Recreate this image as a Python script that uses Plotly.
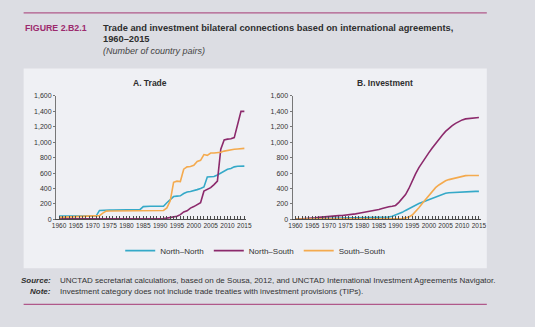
import plotly.graph_objects as go

W, H = 535, 327
years = list(range(1960, 2016))

# ---- Panel A: Trade ----
trade_nn = [42]*12 + [115] + [119]*8 + [125]*4 + [165] + [170]*6 + \
    [215, 260, 295, 300, 305, 335, 355, 360, 370, 385, 400, 420, 550, 552, 555, 575,
     600, 625, 650, 660, 680, 688, 690, 690]
trade_ss = [25, 27, 29, 31, 33, 35, 37, 39, 41, 43, 45, 46, 48, 80, 106] + [108]*16 + \
    [115, 148, 240, 480, 495, 490, 650, 680, 685, 700, 750, 765, 840, 830, 860, 860,
     862, 870, 885, 895, 900, 908, 912, 918, 920]
trade_ns = [5]*30 + [8, 10, 15, 25, 30, 40, 60, 95, 110, 145, 165, 185, 215, 365, 385,
                     410, 450, 495, 910, 1030, 1040, 1045, 1060, 1240, 1400, 1400]

# ---- Panel B: Investment ----
inv_ns = [0, 2, 4, 8, 12, 15, 20, 25, 30, 33, 36, 40, 44, 47, 50, 53, 57, 62, 70, 78,
          85, 92, 98, 105, 115, 127, 140, 155, 162, 170, 180, 220, 270, 320, 400, 500,
          590, 670, 740, 805, 865, 925, 985, 1035, 1090, 1140, 1180, 1215, 1245, 1270,
          1290, 1303, 1308, 1312, 1315, 1320]
inv_ss = [3]*31 + [5, 10, 18, 30, 55, 100, 150, 205, 260, 315, 370, 410, 445, 475, 500,
                   515, 525, 540, 555, 563, 567, 568, 568, 568, 568]
inv_nn = [3, 4, 5, 6, 7, 8, 9, 10, 10, 11, 12, 12, 13, 13, 14, 14, 15, 15, 16, 16, 17,
          17, 18, 18, 19, 20, 22, 25, 30, 40, 55, 72, 90, 115, 140, 160, 185, 205, 222,
          238, 255, 272, 292, 310, 325, 338, 345, 348, 350, 352, 354, 358, 360, 362,
          362, 362]

series = ["North–North", "North–South", "South–South"]
colors = {"North–North": "#35a9c8", "North–South": "#8c2a6c", "South–South": "#f4aa4e"}
y_ticks = [0, 200, 400, 600, 800, 1000, 1200, 1400, 1600]
x_ticks = list(range(1960, 2016, 5))

FONT = "Arial, Liberation Sans, sans-serif"

def px(x):
    return x / W

def py(y):
    return 1 - y / H

fig = go.Figure()
for name, a, b in [("North–North", trade_nn, inv_nn),
                   ("North–South", trade_ns, inv_ns),
                   ("South–South", trade_ss, inv_ss)]:
    fig.add_trace(go.Scatter(x=years, y=a, mode="lines", name=name,
                             line=dict(color=colors[name], width=1.6),
                             xaxis="x", yaxis="y", showlegend=True))
    fig.add_trace(go.Scatter(x=years, y=b, mode="lines", name=name,
                             line=dict(color=colors[name], width=1.6),
                             xaxis="x2", yaxis="y2", showlegend=False))

xax = dict(range=[1959.1, 2015.6], tickmode="array", tickvals=x_ticks,
           ticktext=[str(t) for t in x_ticks], showgrid=False, zeroline=False,
           showline=True, linecolor="#4a4a4a", linewidth=1, ticks="inside",
           ticklen=3, tickcolor="#4a4a4a", tickangle=0,
           minor=dict(dtick=1, tick0=1960, ticks="inside", ticklen=3, tickcolor="#4a4a4a"),
           tickfont=dict(family=FONT, size=6.5, color="#333333"), fixedrange=True)
yax = dict(range=[0, 1600], tickmode="array", tickvals=y_ticks,
           ticktext=[f"{v:,}" for v in y_ticks], showgrid=False, zeroline=False,
           showline=True, linecolor="#777777", linewidth=1, ticks="outside",
           ticklen=2, tickcolor="#777777",
           tickfont=dict(family=FONT, size=7, color="#333333"),
           domain=[py(220), py(94)], fixedrange=True)

shapes = [
    dict(type="rect", xref="paper", yref="paper", x0=px(20), x1=px(492),
         y0=py(270), y1=py(66), fillcolor="#eff0f4", line=dict(width=0), layer="below"),
    dict(type="line", xref="paper", yref="paper", x0=px(20), x1=px(492),
         y0=py(9), y1=py(9), line=dict(color="#b0588a", width=1.2)),
    dict(type="line", xref="paper", yref="paper", x0=px(20), x1=px(492),
         y0=py(307), y1=py(307), line=dict(color="#b0588a", width=1.2)),
]

def ann(text, x, y, size, xanchor="left", color="#333333"):
    return dict(text=text, x=px(x), y=py(y), xref="paper", yref="paper",
                xanchor=xanchor, yanchor="middle", showarrow=False,
                font=dict(family=FONT, size=size, color=color))

annotations = [
    ann("<b>FIGURE 2.B2.1</b>", 19, 25, 8.8, color="#9c2a6e"),
    ann("<b>Trade and investment bilateral connections based on international agreements,</b>",
        99, 25, 9.3, color="#2e2e2e"),
    ann("<b>1960–2015</b>", 99, 36, 9.3, color="#2e2e2e"),
    ann("<i>(Number of country pairs)</i>", 99, 48, 9, color="#444444"),
    ann("<b>A. Trade</b>", 149, 81, 8.5, xanchor="center", color="#2e2e2e"),
    ann("<b>B. Investment</b>", 388, 81, 8.5, xanchor="center", color="#2e2e2e"),
    ann("<b><i>Source:</i></b>", 50, 283, 8, xanchor="right", color="#2e2e2e"),
    ann("UNCTAD secretariat calculations, based on de Sousa, 2012, and UNCTAD International Investment Agreements Navigator.",
        55, 283, 8, color="#333333"),
    ann("<b><i>Note:</i></b>", 50, 294, 8, xanchor="right", color="#2e2e2e"),
    ann("Investment category does not include trade treaties with investment provisions (TIPs).",
        55, 294, 8, color="#333333"),
]

fig.update_layout(
    width=W, height=H, margin=dict(l=0, r=0, t=0, b=0),
    paper_bgcolor="#dcdde3", plot_bgcolor="rgba(0,0,0,0)",
    xaxis=dict(xax, domain=[px(53), px(247)], anchor="y"),
    yaxis=dict(yax, anchor="x"),
    xaxis2=dict(xax, domain=[px(294), px(486)], anchor="y2"),
    yaxis2=dict(yax, anchor="x2"),
    shapes=shapes, annotations=annotations,
    showlegend=True,
    legend=dict(orientation="h", x=px(256), y=py(252), xanchor="center", yanchor="middle",
                bgcolor="rgba(0,0,0,0)", font=dict(family=FONT, size=8, color="#333333"),
                itemwidth=30, tracegroupgap=0),
)

fig.write_html("out.html")
